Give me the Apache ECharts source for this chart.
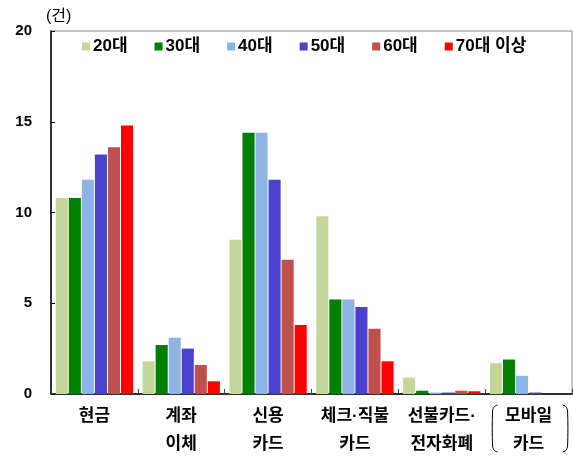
<!DOCTYPE html>
<html>
<head>
<meta charset="utf-8">
<script src="https://cdn.jsdelivr.net/npm/echarts@6/dist/echarts.min.js"></script>
<style>html,body{margin:0;padding:0;background:#fff;}#c{width:573px;height:458px;}</style>
</head>
<body>
<div id="c"></div>
<script>
var categories = ['현금\n', '계좌\n이체', '신용\n카드', '체크·직불\n카드', '선불카드·\n전자화폐', '모바일\n카드'];
var seriesNames = ['20대', '30대', '40대', '50대', '60대', '70대 이상'];
var v20 = [10.8, 1.8, 8.5, 9.8, 0.9, 1.7];
var v30 = [10.8, 2.7, 14.4, 5.2, 0.18, 1.9];
var v40 = [11.8, 3.1, 14.4, 5.2, 0.08, 1.0];
var v50 = [13.2, 2.5, 11.8, 4.8, 0.08, 0.08];
var v60 = [13.6, 1.6, 7.4, 3.6, 0.18, 0];
var v70 = [14.8, 0.7, 3.8, 1.8, 0.15, 0];
var yTicks = [0, 5, 10, 15, 20];
var unitLabel = '(건)';

var colors = ['#c4d79b', '#008000', '#8db4e2', '#4a42cf', '#c0504d', '#ff0000'];
var allValues = [v20, v30, v40, v50, v60, v70];
var FONT = '"Liberation Sans", "Noto Sans CJK KR", sans-serif';

var chart = echarts.init(document.getElementById('c'), null, {renderer: 'canvas'});
var series = seriesNames.map(function (n, i) {
  return {
    name: n, type: 'bar', data: allValues[i],
    barGap: '8%', barCategoryGap: '11%',
    itemStyle: {color: colors[i]}
  };
});
chart.setOption({
  animation: false,
  textStyle: {fontFamily: FONT},
  grid: {left: 51, right: 1, top: 31, bottom: 59, show: true, borderColor: '#8c8c8c', borderWidth: 1, containLabel: false},
  legend: {
    data: seriesNames, left: 77, top: 33, itemWidth: 8, itemHeight: 8, itemGap: 27,
    icon: 'rect',
    textStyle: {fontSize: 17, fontWeight: 'bold', color: '#000', fontFamily: FONT, padding: [0, 0, 0, -2]}
  },
  xAxis: {
    type: 'category', data: categories,
    axisLine: {lineStyle: {color: '#000', width: 1.5}},
    axisTick: {show: true, inside: true, length: 5, lineStyle: {color: '#444'}},
    axisLabel: {fontSize: 17, fontWeight: 'bold', color: '#000', lineHeight: 28, margin: 8, fontFamily: FONT, interval: 0}
  },
  yAxis: {
    type: 'value', min: yTicks[0], max: yTicks[yTicks.length - 1], interval: 5,
    axisLine: {show: true, lineStyle: {color: '#000', width: 1.5}},
    axisTick: {show: true, inside: true, length: 4, lineStyle: {color: '#000'}},
    splitLine: {show: false},
    axisLabel: {fontSize: 15, fontWeight: 'bold', color: '#000', margin: 19, fontFamily: FONT}
  },
  series: series
});

// decorations: unit label and brackets around the last category label
var p = chart.convertToPixel({xAxisIndex: 0, yAxisIndex: 0}, [categories[5], 0]);
var cx = p[0];
var y0 = p[1];
function bracket(x, y, dir) {
  var w = 5 * dir, h = 47;
  return [[x + w, y], [x + w * 0.35, y + 1.5], [x, y + 6], [x, y + h - 6], [x + w * 0.35, y + h - 1.5], [x + w, y + h]];
}
chart.setOption({
  graphic: [
    {type: 'text', x: 46, y: 17, style: {text: unitLabel, fill: '#000', font: '16px ' + FONT, verticalAlign: 'middle'}},
    {type: 'polyline', shape: {points: bracket(cx - 36, y0 + 11, 1), smooth: 0.3}, style: {stroke: '#000', fill: null, lineWidth: 1}},
    {type: 'polyline', shape: {points: bracket(cx + 39, y0 + 11, -1), smooth: 0.3}, style: {stroke: '#000', fill: null, lineWidth: 1}}
  ]
});
</script>
</body>
</html>
